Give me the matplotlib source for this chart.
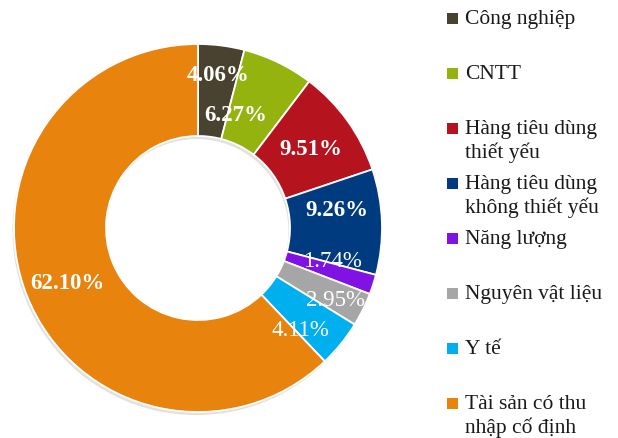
import numpy as np
import matplotlib
matplotlib.use("Agg")
import matplotlib.pyplot as plt

# --- DATA ---
sectors = ["Công nghiệp", "CNTT", "Hàng tiêu dùng\nthiết yếu",
           "Hàng tiêu dùng\nkhông thiết yếu", "Năng lượng",
           "Nguyên vật liệu", "Y tế", "Tài sản có thu\nnhập cố định"]
shares = [4.06, 6.27, 9.51, 9.26, 1.74, 2.95, 4.11, 62.10]
colors = ["#4A4230", "#95B30F", "#B5131D", "#003B80", "#8012E3",
          "#A6A6A6", "#00B0EE", "#E8830E"]

# label placement: radius (fraction of outer radius), angle nudge (deg), bold
label_r = [0.84, 0.65, 0.75, 0.76, 0.755, 0.84, 0.78, 0.77]
label_nudge = [0, 7.5, -0.7, 5.9, 4.2, -1.1, -5.7, 0.8]
label_bold = [True, True, True, True, False, False, False, True]

plt.rcParams['font.family'] = ['Liberation Serif', 'DejaVu Serif']

fig = plt.figure(figsize=(6.18, 4.39), dpi=100)
R = 184
cx, cy = 198, 229
ax = fig.add_axes([(cx - R) / 618, 1 - (cy + R) / 439, 2 * R / 618, 2 * R / 439])

wedges, _ = ax.pie(shares, colors=colors, startangle=90, counterclock=False,
                   radius=1.0,
                   wedgeprops=dict(width=0.5, edgecolor="white", linewidth=1.3),
                   shadow={'ox': -0.006, 'oy': -0.012, 'facecolor': '#bdbdbd',
                           'edgecolor': 'none', 'alpha': 0.45})
ax.set_xlim(-1, 1)
ax.set_ylim(-1, 1)

for w, val, r, d, b in zip(wedges, shares, label_r, label_nudge, label_bold):
    ang = np.deg2rad((w.theta1 + w.theta2) / 2 + d)
    ax.text(r * np.cos(ang), r * np.sin(ang), f"{val:.2f}%",
            ha="center", va="center", color="white", fontsize=16.5,
            fontweight="bold" if b else "normal")

# --- legend (drawn by hand to keep marker on the first line) ---
y0 = 1 - 19 / 439
step = 55 / 439
for i, (lab, c) in enumerate(zip(sectors, colors)):
    y = y0 - i * step
    fig.patches.append(plt.Rectangle((447 / 618, y - 5.5 / 439), 11 / 618, 11 / 439,
                                     transform=fig.transFigure, facecolor=c,
                                     edgecolor="none"))
    fig.text(465 / 618, y + 9 / 439, lab, ha="left", va="top", fontsize=15.5,
             linespacing=1.22, color="#1a1a1a")

fig.savefig("out.png", dpi=100)
